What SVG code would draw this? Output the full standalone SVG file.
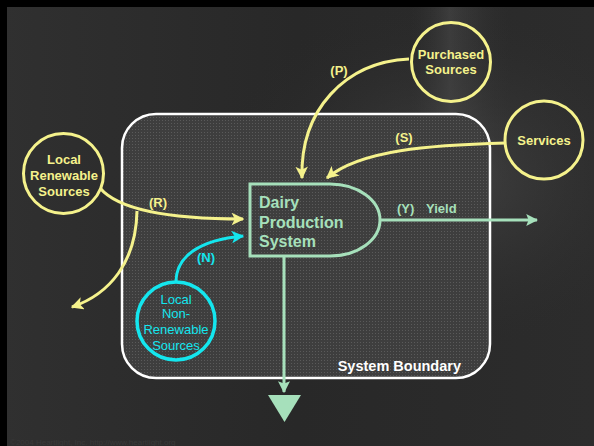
<svg xmlns="http://www.w3.org/2000/svg" width="594" height="446" viewBox="0 0 594 446">
<defs>
<style>
.yel{fill:none;stroke:#f5f28c;stroke-width:3}
.ytxt{fill:#f5f28c;font-family:"Liberation Sans",Arial,sans-serif;font-weight:bold;font-size:13px;text-anchor:middle}
.ctxt{fill:#14e6ee;font-family:"Liberation Sans",Arial,sans-serif;font-size:13px;text-anchor:middle}
.gtxt{fill:#a6e0bb;font-family:"Liberation Sans",Arial,sans-serif;font-weight:bold}
.grn{fill:none;stroke:#a6e0bb;stroke-width:3}
</style>
<linearGradient id="bg" x1="0" y1="0" x2="1" y2="0">
<stop offset="0" stop-color="#303030"/>
<stop offset="0.5" stop-color="#282828"/>
<stop offset="1" stop-color="#2c2c2c"/>
</linearGradient>
<radialGradient id="glow" cx="0.75" cy="0.4" r="0.4">
<stop offset="0" stop-color="#5a5a5a" stop-opacity="0.5"/>
<stop offset="1" stop-color="#2a2a2a" stop-opacity="0"/>
</radialGradient>
<linearGradient id="stream" x1="0" y1="0" x2="1" y2="0">
<stop offset="0" stop-color="#333" stop-opacity="0"/>
<stop offset="0.4" stop-color="#4a4a4a" stop-opacity="0.6"/>
<stop offset="1" stop-color="#333" stop-opacity="0"/>
</linearGradient>
<pattern id="dots" width="3" height="3" patternUnits="userSpaceOnUse">
<rect width="3" height="3" fill="#3e3e3e"/>
<rect width="1" height="1" fill="#5a5a5a"/>
</pattern>
<marker id="ay" viewBox="0 0 10 10" refX="9" refY="5" markerWidth="4.2" markerHeight="4.2" orient="auto" markerUnits="strokeWidth">
<path d="M0,0 L10,5 L0,10 L2.5,5 Z" fill="#f5f28c"/>
</marker>
<marker id="ac" viewBox="0 0 10 10" refX="9" refY="5" markerWidth="4.2" markerHeight="4.2" orient="auto" markerUnits="strokeWidth">
<path d="M0,0 L10,5 L0,10 L2.5,5 Z" fill="#14e6ee"/>
</marker>
<marker id="ag" viewBox="0 0 10 10" refX="9" refY="5" markerWidth="4" markerHeight="4" orient="auto" markerUnits="strokeWidth">
<path d="M0,0 L10,5 L0,10 L2,5 Z" fill="#a6e0bb"/>
</marker>
</defs>
<rect width="594" height="446" fill="url(#bg)"/>
<rect x="410" y="0" width="100" height="180" fill="url(#stream)"/>
<rect width="594" height="446" fill="url(#glow)"/>
<rect x="0" y="0" width="594" height="7" fill="#000"/>
<rect x="0" y="0" width="7" height="446" fill="#000"/>
<text x="10" y="445" font-family="'Liberation Sans',Arial,sans-serif" font-size="8" fill="#3a3a3a">©2004 Heartlight, Inc.  http://www.heartlight.org</text>

<g id="boundary">
<rect x="122" y="114" width="368" height="264" rx="34" ry="34" fill="url(#dots)" stroke="#fff" stroke-width="2.5"/>
<text x="461" y="371" font-family="'Liberation Sans',Arial,sans-serif" font-weight="bold" font-size="14.5" fill="#fff" text-anchor="end">System Boundary</text>
</g>

<g id="connectors">
<path class="yel" d="M409,59 C345,62 300,110 302,178" marker-end="url(#ay)"/>
<text class="ytxt" x="339" y="75">(P)</text>
<path class="yel" d="M506,143 C430,145 360,150 327,178" marker-end="url(#ay)"/>
<text class="ytxt" x="404" y="142">(S)</text>
<path class="yel" d="M100,188 C120,212 180,219 243,219" marker-end="url(#ay)"/>
<text class="ytxt" x="158" y="207">(R)</text>
<path class="yel" d="M137,211 C136,262 110,294 72,307" marker-end="url(#ay)"/>
<path fill="none" stroke="#14e6ee" stroke-width="3" d="M176,282 C176,256 200,240 243,236" marker-end="url(#ac)"/>
<text class="ytxt" x="206" y="262" style="fill:#14e6ee">(N)</text>
<path class="grn" d="M380,220 H537" marker-end="url(#ag)"/>
<text class="gtxt" x="397" y="213" font-size="13">(Y)</text>
<text class="gtxt" x="426" y="213" font-size="13">Yield</text>
<path class="grn" d="M284,256 V392" marker-end="url(#ag)"/>
<path d="M268,395 H301 L284.5,422 Z" fill="#a6e0bb"/>
</g>

<g id="dairy">
<path class="grn" d="M250,184 H330 A50,36 0 0 1 330,256 H250 Z"/>
<text class="gtxt" x="259" y="208" font-size="16">Dairy</text>
<text class="gtxt" x="259" y="228" font-size="16">Production</text>
<text class="gtxt" x="259" y="247" font-size="16">System</text>
</g>

<g id="purchased">
<circle cx="451" cy="62" r="39.5" class="yel"/>
<text class="ytxt" x="451" y="59">Purchased</text>
<text class="ytxt" x="451" y="74">Sources</text>
</g>

<g id="services">
<circle cx="544" cy="140" r="39" class="yel"/>
<text class="ytxt" x="544" y="145">Services</text>
</g>

<g id="renewable">
<circle cx="63.5" cy="173.5" r="40" class="yel"/>
<text class="ytxt" x="64" y="164">Local</text>
<text class="ytxt" x="64" y="180">Renewable</text>
<text class="ytxt" x="64" y="196">Sources</text>
</g>

<g id="nonrenewable">
<circle cx="176" cy="321" r="39" fill="none" stroke="#14e6ee" stroke-width="3.5"/>
<text class="ctxt" x="176" y="304">Local</text>
<text class="ctxt" x="176" y="318">Non-</text>
<text class="ctxt" x="176" y="334">Renewable</text>
<text class="ctxt" x="176" y="350">Sources</text>
</g>
</svg>
